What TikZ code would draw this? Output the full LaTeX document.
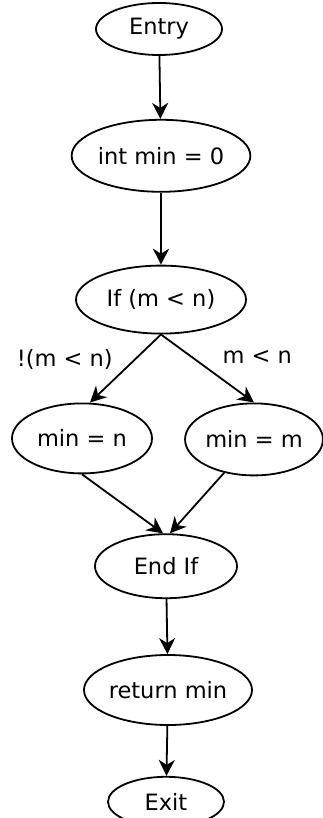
\documentclass[tikz,border=0pt]{standalone}
\usepackage{fontspec}
\setmainfont{DejaVu Sans}
\usetikzlibrary{arrows.meta, positioning, shapes.geometric}

\begin{document}
\begin{tikzpicture}[
  blk/.style = {
    ellipse,
    draw=black, line width=1.8pt,
    font=\fontsize{22.5}{26}\selectfont, inner sep=0pt, align=center
  },
  lbl/.style = {font=\fontsize{22.5}{26}\selectfont, inner sep=3pt},
  arr/.style  = {-{Stealth[length=16pt,width=16pt,inset=5pt]}, line width=1.8pt, color=black},
  node distance = 60pt
]
  \useasboundingbox (0,0) rectangle (322pt,-818pt);

  \node[blk, minimum width=126pt, minimum height=52pt] (entry) at (159pt,-29pt) {Entry};
  \node[blk, minimum width=172pt, minimum height=72pt, below=63pt of entry, xshift=2pt] (intmin) {int min = 0};
  \node[blk, minimum width=170pt, minimum height=68pt, below=72pt of intmin] (ifmn) {If (m < n)};
  \node[blk, minimum width=140pt, minimum height=70pt, below=68pt of ifmn, xshift=-79pt] (minn) {min = n};
  \node[blk, minimum width=132pt, minimum height=72pt, below=68pt of ifmn, xshift=93pt] (minm) {min = m};
  \node[blk, minimum width=142pt, minimum height=64pt, below=59pt of minn, xshift=84pt] (endif) {End If};
  \node[blk, minimum width=168pt, minimum height=70pt, below=55pt of endif, xshift=2pt] (ret) {return min};
  \node[blk, minimum width=116pt, minimum height=50pt, below=50pt of ret, xshift=-2pt] (exit) {Exit};

  \draw[arr] (entry)       -- (intmin);
  \draw[arr] (intmin)      -- (ifmn);
  \draw[arr] (ifmn.south)  -- node[lbl, pos=0.4, left=16pt, yshift=2pt] {!(m < n)} ([xshift=8pt]minn.north);
  \draw[arr] (ifmn.south)  -- node[lbl, pos=0.33, right=27pt] {m < n} (minm.north);
  \draw[arr] (minn.south)  -- ([xshift=-3pt]endif.north);
  \draw[arr] (minm)        -- ([xshift=4pt]endif.north);
  \draw[arr] (endif)       -- (ret);
  \draw[arr] (ret)         -- (exit);
\end{tikzpicture}
\end{document}
